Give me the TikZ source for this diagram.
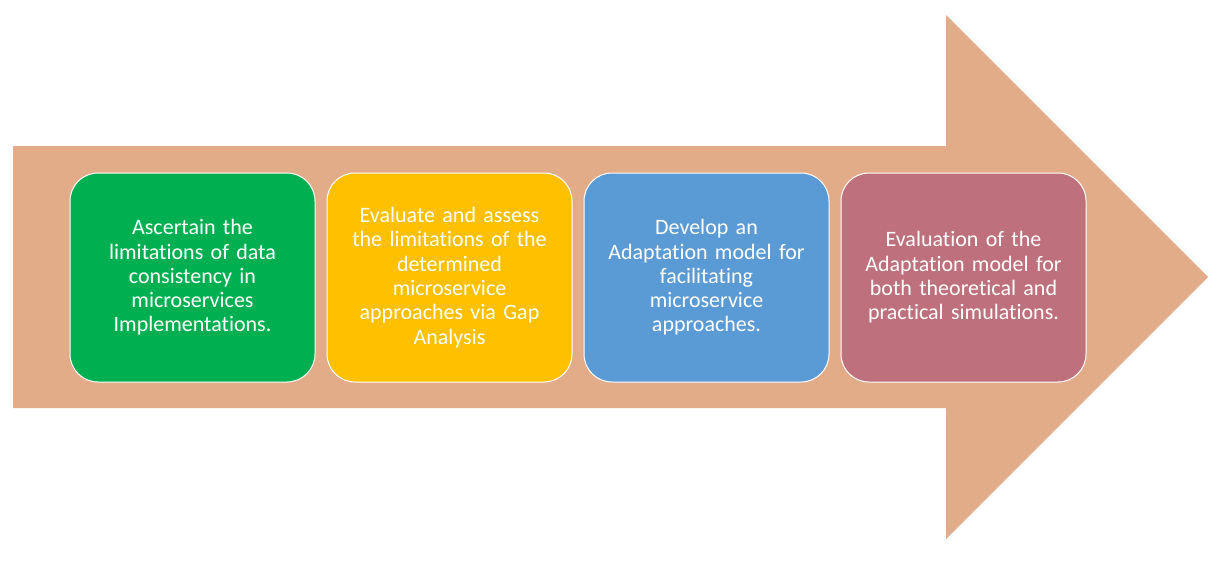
\documentclass[tikz,border=0pt]{standalone}
\usepackage{fontspec}
\setmainfont{Carlito}[Ligatures={NoCommon}]
\definecolor{arrowc}{HTML}{E2AC89}
\definecolor{c1}{HTML}{00B050}
\definecolor{c2}{HTML}{FFC000}
\definecolor{c3}{HTML}{5B9BD5}
\definecolor{c4}{HTML}{BE717C}
\begin{document}
\begin{tikzpicture}[x=1pt,y=-1pt,
  stepbox/.style={draw=white, line width=1pt, rounded corners=28pt,
    minimum width=245pt, minimum height=209pt, text width=220pt,
    align=center, text=white, inner sep=0pt,
    font=\fontsize{22pt}{24.3pt}\selectfont}]
\useasboundingbox (0,0) rectangle (1220,562);
\fill[arrowc] (13,146) -- (946,146) -- (946,15) -- (1208,277) -- (946,539) -- (946,408) -- (13,408) -- cycle;
\node[stepbox, fill=c1] (s1) at (192.5,277.5) {Ascertain the\\ limitations of data\\ consistency in\\ microservices\\ Implementations.};
\node[stepbox, fill=c2] (s2) at (449.5,277.5) {Evaluate and assess\\ the limitations of the\\ determined\\ microservice\\ approaches via Gap\\ Analysis};
\node[stepbox, fill=c3] (s3) at (706.5,277.5) {Develop an\\ Adaptation model for\\ facilitating\\ microservice\\ approaches.};
\node[stepbox, fill=c4] (s4) at (963.5,277.5) {Evaluation of the\\ Adaptation model for\\ both theoretical and\\ practical simulations.};
\end{tikzpicture}
\end{document}
